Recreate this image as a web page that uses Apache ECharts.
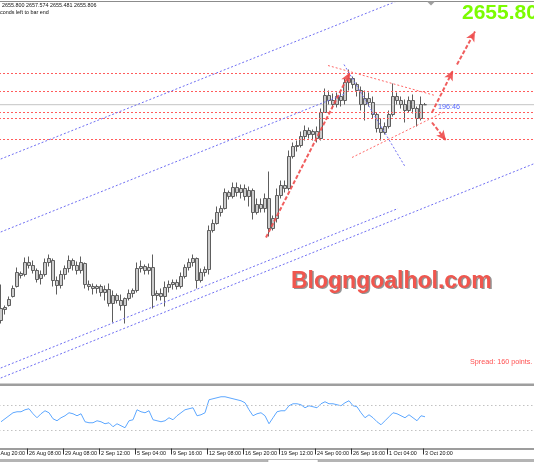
<!DOCTYPE html>
<html><head><meta charset="utf-8">
<script src="https://cdn.jsdelivr.net/npm/echarts/dist/echarts.min.js"></script>
<style>html,body{margin:0;padding:0;background:#fff;overflow:hidden}#c{width:534px;height:462px}</style>
</head><body><div id="c"></div>
<script>
// ---- data (XAUUSD H4) ----
const open = [2440,2451,2455,2464,2474,2487,2486,2498,2495,2490,
2482,2486,2498,2500,2480,2475,2486,2492,2500,2495,
2490,2497,2476,2474,2472,2474,2468,2471,2457,2465,
2460,2455,2462,2467,2470,2492,2494,2490,2493,2465,
2467,2464,2473,2476,2478,2474,2484,2493,2498,2502,
2480,2488,2491,2530,2537,2548,2552,2568,2564,2573,
2568,2572,2564,2570,2548,2556,2552,2562,2532,2542,
2565,2575,2572,2604,2614,2615,2624,2630,2626,2629,
2622,2648,2665,2660,2656,2664,2660,2678,2682,2676,
2670,2656,2662,2658,2646,2632,2628,2634,2646,2664,
2660,2656,2650,2660,2652,2642,2655.8];
const close = [2452,2453,2461,2472,2488,2485,2498,2495,2490,2481,
2486,2498,2502,2480,2475,2486,2492,2500,2495,2490,
2498,2476,2474,2472,2474,2468,2471,2457,2465,2460,
2455,2462,2467,2470,2492,2494,2490,2493,2465,2467,
2464,2473,2476,2478,2474,2484,2493,2498,2502,2480,
2488,2491,2530,2537,2548,2552,2568,2564,2573,2568,
2572,2564,2570,2548,2556,2552,2562,2532,2542,2565,
2575,2572,2604,2614,2615,2624,2630,2626,2629,2622,
2648,2665,2660,2656,2664,2660,2678,2682,2676,2670,
2656,2662,2658,2646,2632,2628,2634,2646,2664,2660,
2656,2650,2660,2652,2642,2656,2655.806];
const low = [2437,2446,2454,2463,2473,2482,2484,2492,2487,2478,
2476,2484,2494,2474,2466,2472,2481,2488,2490,2486,
2487,2472,2470,2466,2467,2464,2460,2454,2438,2457,
2450,2437,2460,2463,2468,2488,2486,2486,2452,2460,
2460,2454,2468,2471,2471,2472,2482,2490,2494,2472,
2478,2484,2486,2528,2536,2544,2551,2561,2562,2564,
2562,2560,2554,2541,2546,2548,2548,2524,2530,2538,
2562,2568,2570,2602,2609,2613,2620,2622,2620,2618,
2620,2648,2656,2652,2653,2654,2656,2670,2672,2664,
2650,2640,2654,2642,2628,2620,2626,2632,2644,2656,
2652,2638,2648,2647,2634,2640,2655.481];
const high = [2476,2455,2464,2475,2493,2489,2503,2504,2500,2492,
2490,2502,2506,2502,2484,2490,2495,2505,2502,2499,
2504,2498,2480,2477,2476,2476,2475,2477,2470,2467,
2466,2463,2471,2472,2498,2500,2496,2497,2506,2470,
2472,2479,2480,2481,2481,2488,2496,2502,2506,2503,
2492,2494,2535,2541,2554,2555,2572,2570,2578,2578,
2576,2576,2574,2572,2562,2562,2567,2589,2545,2572,
2580,2580,2610,2618,2620,2629,2635,2633,2631,2634,
2652,2672,2670,2667,2668,2670,2682,2691,2684,2678,
2674,2670,2668,2664,2648,2642,2638,2650,2677,2668,
2664,2661,2664,2666,2654,2664,2657.574];
const rsi = [42.8,47.6,52.4,57.2,58.8,58.8,62,63.6,55.6,49.2,
55.6,60.4,57.2,47.6,44.4,49.2,52.4,57.2,55.6,52.4,
55.6,42.8,41.2,41.2,44.4,42.8,39.6,41.2,34.8,39.6,
36.4,33.2,44.4,46,62,58.8,57.2,60.4,46,44.4,
42.8,44.4,49.2,46,52.4,57.2,62,63.6,65.2,52.4,
54,57.2,78,79.6,81.2,82.8,82.8,81.2,79.6,78,
76.4,73.2,62,52.4,55.6,57.2,52.4,39.6,49.2,58.8,
60.4,60.4,68.4,71.6,71.6,70,65.2,68.4,66.8,65.2,
71.6,74.8,71.6,71.6,70,68.4,73.2,76.4,68.4,66.8,
57.2,49.2,54,49.2,42.8,38,44.4,50.8,57.2,55.6,
52.4,49.2,54,49.2,44.4,52.4,50.8];
const tickLabels = ['22 Aug 20:00','26 Aug 08:00','29 Aug 08:00','2 Sep 12:00','5 Sep 04:00','9 Sep 16:00',
  '12 Sep 08:00','16 Sep 20:00','19 Sep 12:00','24 Sep 00:00','26 Sep 16:00','1 Oct 04:00','3 Oct 20:00'];
const levels = [2687, 2669, 2648, 2642, 2621];      // red dotted horizontal levels
const lastPrice = 2655.80;
const rsiLevels = [70, 30];
// trend lines: [barIndex, price] endpoints
const blueLines = [
  [[-1, 2600], [110, 2777]],
  [[-1, 2527], [86.25, 2667]],
  [[-1, 2391], [99.25, 2552]],
  [[-1, 2381], [134, 2598]],
  [[85.75, 2696], [101, 2594]]
];
const redLines = [
  [[81.75, 2695], [108.5, 2665]],
  [[87.75, 2603], [111, 2649]]
];
const arrows = [
  [[66.25, 2523], [87.25, 2688]],
  [[107.75, 2648], [113, 2690]],
  [[114, 2696], [118.5, 2729]],
  [[107.75, 2638], [111.25, 2620]]
];

// ---- layout ----
const LEAD = 9;               // empty slots before the first bar
const N = LEAD + 134;         // category slots
const X0 = -LEAD - 0.5, X1 = N - LEAD - 0.5;
const cats = Array.from({length: N}, (_, c) => {
  const m = (c - 7) / 9;
  return (Number.isInteger(m) && m >= 0 && m < tickLabels.length) ? tickLabels[m] : '';
});
const bars = open.map((o, i) => [i + LEAD, o, close[i], low[i], high[i]]);
const rsiData = Array(LEAD).fill('-').concat(rsi);
const showTick = (idx, val) => val !== '';
const FONT = '"Liberation Sans", Arial, sans-serif';

function seg(pts, color, width, type, z) {
  return {type: 'line', xAxisIndex: 1, yAxisIndex: 0, data: pts, symbol: 'none', silent: true,
    lineStyle: {color: color, width: width, type: type}, z: z || 4};
}

const series = [
  {type: 'candlestick', xAxisIndex: 0, yAxisIndex: 0, data: bars, encode: {x: 0, y: [1, 2, 3, 4]},
   barWidth: 3, silent: true, z: 3,
   itemStyle: {color: '#cccccc', color0: '#cccccc', borderColor: '#5e5e5e', borderColor0: '#5e5e5e', borderWidth: 1}
  }
];
series.push(seg([[X0, lastPrice], [X1, lastPrice]], '#c4c4c4', 1, 'solid', 2));
levels.forEach(v => series.push(seg([[X0, v], [X1, v]], '#ff5c5c', 1, [2, 2])));
blueLines.forEach(l => series.push(seg(l, '#6f6ff2', 1, [2, 2])));
redLines.forEach(l => series.push(seg(l, '#ff6a6a', 1, [2, 2])));
series.push({type: 'line', xAxisIndex: 1, yAxisIndex: 0, data: arrows[0], symbol: 'none', silent: true,
  lineStyle: {opacity: 0}, z: 5,
  markLine: {silent: true, symbol: ['none', 'arrow'], symbolSize: [7, 10], label: {show: false},
    lineStyle: {color: '#ee4d4d', width: 2, type: [4, 2], opacity: 0.9},
    data: arrows.map(a => [{coord: a[0]}, {coord: a[1]}])}});
series.push({type: 'line', xAxisIndex: 2, yAxisIndex: 1, data: rsiData, symbol: 'none', silent: true,
  lineStyle: {color: '#5ea8ff', width: 1},
  markLine: {silent: true, symbol: 'none', label: {show: false},
    lineStyle: {color: '#c2c2c2', type: [1.5, 2.5], width: 1},
    data: rsiLevels.map(v => ({yAxis: v}))}});

const txt = (x, y, text, font, fill) => ({type: 'text', x: x, y: y, z: 100, silent: true,
  style: {text: text, font: font, fill: fill, verticalAlign: 'top', align: 'left'}});

const option = {
  animation: false,
  backgroundColor: '#ffffff',
  grid: [
    {left: -37, top: 3, width: N * 4, height: 379, outerBoundsMode: 'none', containLabel: false},
    {left: -37, top: 386, width: N * 4, height: 62.5, outerBoundsMode: 'none', containLabel: false}
  ],
  xAxis: [
    {type: 'category', gridIndex: 0, data: cats, boundaryGap: true, show: false},
    {type: 'value', gridIndex: 0, min: X0, max: X1, show: false},
    {type: 'category', gridIndex: 1, data: cats, boundaryGap: true,
     axisLine: {show: true, lineStyle: {color: '#7d7d7d', width: 1.5}},
     axisTick: {show: true, interval: showTick, length: 6, lineStyle: {color: '#333', width: 1}},
     axisLabel: {show: true, interval: showTick, align: 'left', margin: 2.5, fontSize: 5.4,
       fontFamily: FONT, color: '#111'},
     splitLine: {show: false}}
  ],
  yAxis: [
    {type: 'value', gridIndex: 0, min: 2378.5, max: 2757.5, show: false},
    {type: 'value', gridIndex: 1, min: 0, max: 100, show: false}
  ],
  series: series,
  graphic: {elements: [
    {type: 'line', z: 100, silent: true, shape: {x1: 0, y1: 1.5, x2: 534, y2: 1.5}, style: {stroke: '#8c8c8c', lineWidth: 1}},
    {type: 'polygon', z: 100, silent: true, shape: {points: [[427, 1.5], [435, 1.5], [431, 5.5]]}, style: {fill: '#a0a0a0'}},
    {type: 'rect', z: 100, silent: true, shape: {x: 0, y: 383.5, width: 534, height: 2.5}, style: {fill: '#9e9e9e'}},
    {type: 'rect', z: 100, silent: true, shape: {x: 0, y: 459, width: 534, height: 3}, style: {fill: '#b4b4b4'}},
    {type: 'rect', z: 101, silent: true, shape: {x: 268, y: 459.5, width: 50, height: 3}, style: {fill: '#ffffff', stroke: '#999', lineWidth: 0.5}},
    txt(2, 3, '2655.800 2657.574 2655.481 2655.806', '5.4px ' + FONT, '#111'),
    txt(0, 10.5, 'conds left to bar end', '5.4px ' + FONT, '#111'),
    txt(462, 3, '2655.80', 'bold 21px ' + FONT, '#7cfc00'),
    txt(292.5, 271.5, 'Blogngoalhol.com', 'bold 23px ' + FONT, 'rgba(60,60,60,0.55)'),
    txt(291, 270, 'Blogngoalhol.com', 'bold 23px ' + FONT, '#f0564e'),
    txt(470, 358.5, 'Spread: 160 points.', '7.2px ' + FONT, '#ff5050'),
    txt(438, 103.5, '196:46', '7.2px ' + FONT, '#5566ff')
  ]}
};
const chart = echarts.init(document.getElementById('c'), null, {renderer: 'canvas'});
chart.setOption(option);
</script>
</body></html>
